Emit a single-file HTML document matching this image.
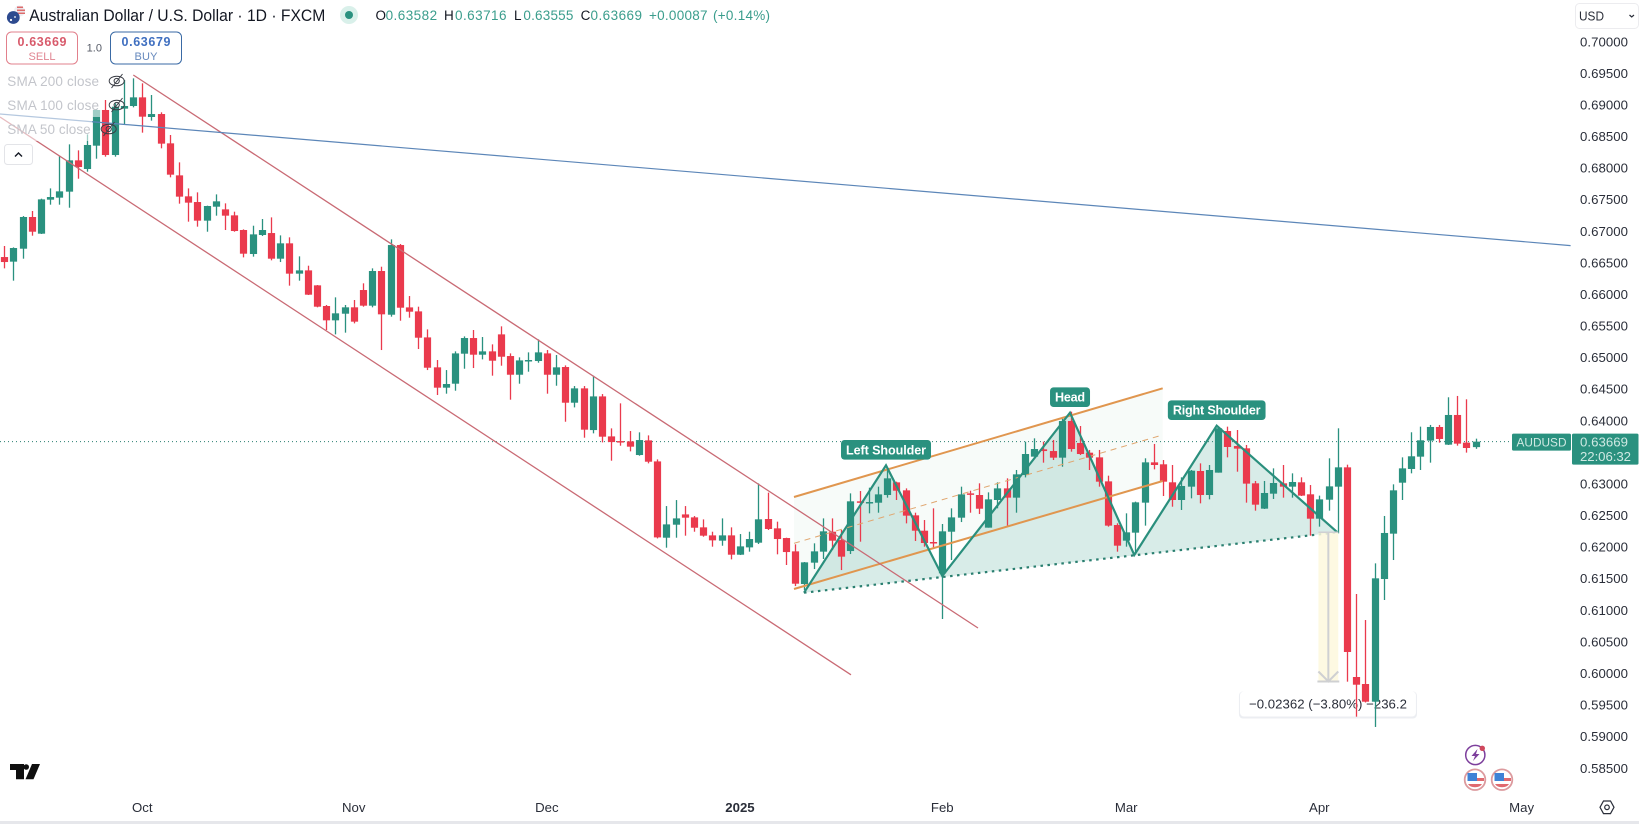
<!DOCTYPE html>
<html lang="en">
<head>
<meta charset="utf-8">
<title>AUDUSD 1D chart</title>
<style>
html,body{margin:0;padding:0;background:#fff;width:1639px;height:824px;overflow:hidden}
svg{display:block;font-family:"Liberation Sans",Arial,sans-serif}
</style>
</head>
<body>
<svg id="chart" width="1639" height="824" viewBox="0 0 1639 824" xmlns="http://www.w3.org/2000/svg">
  <rect x="0" y="0" width="1639" height="824" fill="#ffffff"/>
  <g id="under"></g>
  <g id="candles"></g>
  <g id="tools"></g>

  <rect x="0" y="70" width="100" height="47" fill="#ffffff" fill-opacity="0.55"/>
  <rect x="0" y="117" width="92" height="24" fill="#ffffff" fill-opacity="0.55"/>

  <g>
    <g>
      <circle cx="19.5" cy="11" r="5.5" fill="#eef0f4"/>
      <rect x="17" y="6.5" width="6" height="1.6" fill="#dd6b6b"/>
      <rect x="17" y="9.5" width="8" height="1.6" fill="#dd6b6b"/>
      <rect x="17" y="12.5" width="8" height="1.5" fill="#dd6b6b"/>
      <circle cx="13.3" cy="17.5" r="6.4" fill="#2d4a8f"/>
      <circle cx="11" cy="20" r="1.1" fill="#ffffff"/>
      <circle cx="15" cy="17" r="0.9" fill="#ffffff"/>
    </g>
    <text x="29.3" y="21" font-size="17" fill="#131722" textLength="296" lengthAdjust="spacingAndGlyphs">Australian Dollar / U.S. Dollar · 1D · FXCM</text>
    <circle cx="349" cy="15" r="9" fill="#d9f0ea"/>
    <circle cx="349" cy="15" r="4" fill="#2a917f"/>
    <g font-size="13.5" fill="#3a9d8c">
      <text x="375.5" y="20" fill="#131722">O</text>
      <text x="385.6" y="20" textLength="51.5">0.63582</text>
      <text x="444" y="20" fill="#131722">H</text>
      <text x="455" y="20" textLength="51.5">0.63716</text>
      <text x="514" y="20" fill="#131722">L</text>
      <text x="523.4" y="20" textLength="50">0.63555</text>
      <text x="580.6" y="20" fill="#131722">C</text>
      <text x="590.5" y="20" textLength="51.5">0.63669</text>
      <text x="649" y="20" textLength="58.5">+0.00087</text>
      <text x="713" y="20" textLength="57">(+0.14%)</text>
    </g>
  </g>

  <g>
    <rect x="6.5" y="32" width="71" height="32" rx="5" fill="#ffffff" stroke="#e2808c" stroke-width="1"/>
    <text x="42" y="46" font-size="12.5" font-weight="700" fill="#d85a6b" text-anchor="middle" textLength="49">0.63669</text>
    <text x="42" y="60" font-size="11" fill="#e08591" text-anchor="middle" textLength="27">SELL</text>
  </g>
  <text x="94.3" y="51.5" font-size="11" fill="#555a66" text-anchor="middle">1.0</text>
  <g>
    <rect x="110.5" y="32" width="71" height="32" rx="5" fill="#ffffff" stroke="#3a6aa5" stroke-width="1"/>
    <text x="146" y="46" font-size="12.5" font-weight="700" fill="#3f6fc0" text-anchor="middle" textLength="49">0.63679</text>
    <text x="146" y="60" font-size="11" fill="#6588bd" text-anchor="middle" textLength="23">BUY</text>
  </g>

  <g font-size="13.5" fill="#c3c5cb">
    <text x="7.3" y="86" textLength="91.7">SMA 200 close</text>
    <text x="7.3" y="110" textLength="91.7">SMA 100 close</text>
    <text x="7.3" y="134" textLength="83.4">SMA 50 close</text>
    <g fill="none" stroke="#3a3d45" stroke-width="1">
      <ellipse cx="116.7" cy="81" rx="7.5" ry="4.8"/><circle cx="116.7" cy="81" r="2.6"/><path d="M111.5 88 L122.5 74"/>
    </g>
    <g fill="none" stroke="#3a3d45" stroke-width="1">
      <ellipse cx="116.7" cy="105" rx="7.5" ry="4.8"/><circle cx="116.7" cy="105" r="2.6"/><path d="M111.5 112 L122.5 98"/>
    </g>
    <g fill="none" stroke="#3a3d45" stroke-width="1">
      <ellipse cx="108.7" cy="129" rx="7.5" ry="4.8"/><circle cx="108.7" cy="129" r="2.6"/><path d="M103.5 136 L114.5 122"/>
    </g>
  </g>
  <g>
    <rect x="4.5" y="144.5" width="28" height="20" rx="3" fill="#ffffff" stroke="#e3e4e8"/>
    <path d="M15 156.5 L18.5 153 L22 156.5" fill="none" stroke="#131722" stroke-width="1.4"/>
  </g>

  <g id="priceAxis" font-size="13.2" fill="#2a2e39"></g>
  <g id="timeAxis" font-size="13.2" fill="#2a2e39"></g>

  <g>
    <rect x="1575.5" y="3.5" width="63" height="25" rx="4" fill="#ffffff" stroke="#ececef"/>
    <text x="1579" y="20.5" font-size="13.2" fill="#2a2e39" textLength="25" lengthAdjust="spacingAndGlyphs">USD</text>
    <path d="M1629.5 15 L1631.7 17 L1634 15" fill="none" stroke="#2a2e39" stroke-width="1.2"/>
  </g>

  <rect x="0" y="821" width="1639" height="3" fill="#e6e7eb"/>

  <g fill="#0f0f0f">
    <path d="M10 764 H24 V779.3 H16 V770 H10 Z"/>
    <circle cx="26.2" cy="767" r="2.8"/>
    <path d="M32 764 H40 L33.5 779.3 H25.5 Z"/>
  </g>

  <g fill="none" stroke="#2a2e39" stroke-width="1.2">
    <path d="M1600 807.3 L1603.5 801 H1610.5 L1614 807.3 L1610.5 813.6 H1603.5 Z"/>
    <circle cx="1607" cy="807.3" r="2.3"/>
  </g>

  <g>
    <circle cx="1475.3" cy="755" r="9.6" fill="#ffffff" stroke="#7d3f9c" stroke-width="1.5"/>
    <path d="M1477.5 749 L1471.5 756 H1475 L1473 761 L1479.5 754 H1476 Z" fill="#7d3f9c"/>
    <circle cx="1482.3" cy="748.3" r="2.7" fill="#d0485c"/>
  </g>
  <g>
    <circle cx="1475" cy="779.7" r="10.3" fill="#ffffff" stroke="#dc9a9e" stroke-width="1.8"/>
    <rect x="1467.5" y="773" width="9.5" height="8" fill="#3f82d6"/>
    <rect x="1477" y="778" width="7" height="3" fill="#e0696f"/>
    <path d="M1468 784 H1482 A7.5 5 0 0 1 1468 784 Z" fill="#e0696f"/>
  </g>
  <g>
    <circle cx="1502" cy="779.7" r="10.3" fill="#ffffff" stroke="#dc9a9e" stroke-width="1.8"/>
    <rect x="1494.5" y="773" width="9.5" height="8" fill="#3f82d6"/>
    <rect x="1504" y="778" width="7" height="3" fill="#e0696f"/>
    <path d="M1495 784 H1509 A7.5 5 0 0 1 1495 784 Z" fill="#e0696f"/>
  </g>

<script>
// OHLC values in price points (1 point = 0.00001), read per daily bar
const opens = [
66591,66518,66723,67225,66961,67499,67531,67626,68122,67985,
68354,68919,68206,68940,68982,69119,68808,68855,68391,67884,
67552,67462,67167,67388,67346,67251,67019,66639,66940,66971,
66565,66808,66328,66380,66143,65816,65589,65694,65795,66069,
65821,66370,65678,66781,65794,65731,65319,64845,64523,64586,
65061,65309,65045,65098,65367,65024,64728,64945,64945,65066,
64728,64850,64285,64512,63852,64385,63752,63678,63673,63457,
63689,63356,62148,62354,62517,62470,62312,62185,62101,62185,
61879,61995,62069,62444,62296,62143,61932,61415,61753,61927,
62243,62111,61937,62724,62692,62702,62824,63024,62898,62502,
62259,62080,61584,62243,62465,62850,62824,62307,62745,62929,
62782,63140,63431,63547,63520,63415,63996,63647,63494,63420,
63040,62349,62101,62228,62703,63341,63310,63025,62745,62956,
63204,62824,63178,63837,63600,63563,63009,62608,62845,63009,
62956,63025,62835,62449,62750,62956,63262,59943,59832,59552,
61494,62212,63019,63236,63431,63685,63901,63621,64091,63653,63582];
const highs = [
66766,66744,67240,67320,67515,67678,68196,68375,68280,68533,
68929,69077,69024,69394,69420,69341,69156,68882,68523,68090,
67678,67615,67404,67583,67441,67309,67029,67087,67193,67219,
66934,66903,66602,66454,66148,65832,65953,65832,65911,66175,
66412,66438,66871,66797,65974,65805,65446,64961,64802,65098,
65335,65436,65325,65209,65494,65066,65003,65082,65288,65119,
65040,64876,64549,64549,64713,64422,63879,64275,63837,63816,
63768,63388,62649,62744,62649,62491,62438,62243,62454,62312,
62206,62243,63008,62861,62402,62148,62043,61763,62059,62454,
62454,62270,62850,62887,62940,62956,63220,63035,62929,62544,
62428,62613,62365,62613,62956,62892,63009,62866,63024,63088,
63220,63668,63721,63668,63695,64038,64143,63916,63537,63537,
63130,62376,62534,62719,63405,63632,63378,63299,63104,63220,
63325,63299,63906,63906,63853,63616,63046,63046,63246,63299,
63167,63104,62982,62814,63405,63880,63304,61257,60845,61742,
62492,62993,63420,63817,63906,63933,63933,64371,64392,64339,63716];
const lows = [
66412,66217,66565,66929,66956,67420,67420,67372,67831,67942,
68148,68180,68180,68692,68961,68560,68750,68312,67853,67436,
67151,67072,66992,67246,67019,66992,66586,66597,66924,66539,
66512,66138,66217,65990,65795,65436,65367,65394,65541,65805,
65795,65119,65647,65583,65631,65135,64802,64407,64428,64475,
64823,64834,64971,64713,64871,64333,64586,64776,64918,64428,
64554,63984,64211,63731,63800,63657,63367,63604,63515,63446,
63325,62137,61990,62148,62180,62243,62164,62006,62021,61805,
61874,61927,62048,62270,61885,61716,61383,61320,61652,61811,
61953,61636,61890,62085,62534,62544,62782,62745,62375,62096,
62006,61979,60861,61795,62396,62544,62523,62307,62613,62338,
62544,63103,63431,63336,63378,63272,63510,63457,63220,62956,
62323,61927,62006,61901,62339,63230,62808,62639,62587,62771,
62692,62755,63178,63420,63193,62703,62576,62603,62761,62782,
62782,62808,62180,62323,62576,62217,59869,59315,59540,59152,
61162,61795,62745,63167,63220,63336,63653,63616,63605,63495,63555];
const closes = [
66512,66734,67225,66992,67504,67541,67631,68122,68016,68365,
68919,68206,68971,68982,69119,68813,68855,68386,67895,67547,
67452,67167,67399,67473,67246,67003,66644,66950,67019,66565,
66808,66328,66380,65995,65805,65589,65700,65795,65568,65821,
66370,65684,66781,65789,65726,65314,64839,64523,64581,65066,
65309,65045,65098,64950,65013,64728,64955,64961,65082,64728,
64845,64285,64512,63858,64385,63747,63662,63657,63589,63694,
63351,62153,62359,62454,62465,62306,62180,62106,62185,61879,
62011,62127,62439,62286,62127,61921,61420,61758,61932,62249,
62101,61848,62724,62702,62713,62834,63088,62892,62497,62259,
62064,62064,62249,62470,62834,62829,62607,62755,62929,62782,
63151,63473,63552,63520,63415,63995,63552,63473,63415,63035,
62339,62022,62233,62708,63341,63299,63035,62745,62967,63209,
62824,63220,63880,63584,63558,63004,62671,62856,63014,62956,
63030,62814,62449,62755,62961,63262,60339,59821,59552,61505,
62223,62898,63246,63437,63690,63901,63711,64091,63637,63568,63669];

// Axis tick labels
const priceTicks = ["0.70000","0.69500","0.69000","0.68500","0.68000","0.67500","0.67000","0.66500","0.66000","0.65500","0.65000","0.64500","0.64000","0.63500","0.63000","0.62500","0.62000","0.61500","0.61000","0.60500","0.60000","0.59500","0.59000","0.58500"];
const timeLabels = ["Oct","Nov","Dec","2025","Feb","Mar","Apr","May"];
const timeBars = [15,38,59,80,102,122,143,165];

// Drawing tool anchors: bar index and price
const channelUpperBars = [14.03,105.88];
const channelUpperPrices = [0.69473,0.60719];
const channelLowerBars = [-0.47,92.07];
const channelLowerPrices = [0.68808,0.59978];
const trendBars = [-0.47,170.32];
const trendPrices = [0.68855,0.66772];
const orangeBars = [85.87,125.97];
const orangeUpperPrices = [0.62793,0.64513];
const orangeMiddlePrices = [0.62060,0.63776];
const orangeLowerPrices = [0.61336,0.63046];
const patternBars = [86.96,95.88,102.0,115.89,122.88,131.84,144.96];
const patternPrices = [0.61278,0.63294,0.61542,0.64127,0.61874,0.63921,0.62234];
const forecastBars = [142.9,145.06];
const forecastPrices = [0.62234,0.59872];
const measureLabelBar = 134.37;

const NS = "http://www.w3.org/2000/svg";
const xScale = function (bar) { return 4.3 + 9.196 * bar; };
const yScale = function (price) { return 41.7 + (0.70 - price) * 6317; };
const GREEN = "#2a917f";
const RED = "#ea3a4d";

function make(tag, attrs, parent) {
  const el = document.createElementNS(NS, tag);
  for (const k in attrs) el.setAttribute(k, attrs[k]);
  parent.appendChild(el);
  return el;
}
function pts(bars, prices) {
  return bars.map(function (b, i) { return xScale(b).toFixed(1) + "," + yScale(prices[i]).toFixed(1); }).join(" ");
}

const under = document.getElementById("under");
const candles = document.getElementById("candles");
const tools = document.getElementById("tools");
const priceAxis = document.getElementById("priceAxis");
const timeAxis = document.getElementById("timeAxis");
const lastClose = closes[closes.length - 1] / 100000;

// Orange channel fill (beneath candles)
const orangeFillPts = orangeBars.map(function (b, i) { return xScale(b).toFixed(1) + "," + yScale(orangeUpperPrices[i]).toFixed(1); })
  .concat(orangeBars.map(function (b, i) { return xScale(b).toFixed(1) + "," + yScale(orangeLowerPrices[i]).toFixed(1); }).reverse()).join(" ");
const orangeFill = make("polygon", {points: orangeFillPts, fill: "#5fb58c", "fill-opacity": 0.05}, under);



// Head and shoulders fill (beneath candles)
const patFill = make("polygon", {points: pts(patternBars, patternPrices), fill: "#26967f", "fill-opacity": 0.18}, under);



// Last price line
const priceLine = make("line", {x1: 0, x2: 1512, y1: yScale(lastClose), y2: yScale(lastClose), stroke: "#2a7f70", "stroke-width": 1, "stroke-dasharray": "1 3"}, under);



// Measure label (sits beneath the candles)
const boxX = xScale(measureLabelBar);
const boxY = yScale(forecastPrices[1]) + 10;
const labelShadow = make("rect", {x: boxX - 1, y: boxY, width: 178, height: 27, rx: 4, fill: "#eceef2"}, under);


const labelBox = make("rect", {x: boxX, y: boxY, width: 176, height: 25, rx: 4, fill: "#ffffff"}, under);


const labelText = make("text", {x: boxX + 9, y: boxY + 17, "font-size": 13.2, fill: "#2a2e39", textLength: 158}, under);


labelText.textContent = "\u22120.02362 (\u22123.80%) \u2212236.2";

// Candles
for (let i = 0; i < closes.length; i++) {
  const o = opens[i] / 100000, h = highs[i] / 100000, l = lows[i] / 100000, c = closes[i] / 100000;
  const col = c >= o ? GREEN : RED;
  const cx = Math.round(xScale(i)) + 0.5;
  const group = make("g", {}, candles);
  
  
  const wick = make("rect", {x: cx - 0.65, y: yScale(h), width: 1.3, height: Math.max(0.5, yScale(l) - yScale(h)), fill: col}, group);
  
  
  const top = yScale(Math.max(o, c));
  const body = make("rect", {x: cx - 3.6, y: top, width: 7.2, height: Math.max(1.5, yScale(Math.min(o, c)) - top), fill: col}, group);
  
  
}

// Orange channel lines
const orangeUpper = make("polyline", {points: pts(orangeBars, orangeUpperPrices), fill: "none", stroke: "#e0964f", "stroke-width": 2}, tools);


const orangeMiddle = make("polyline", {points: pts(orangeBars, orangeMiddlePrices), fill: "none", stroke: "#e0a66f", "stroke-width": 1, "stroke-dasharray": "6 5"}, tools);


const orangeLower = make("polyline", {points: pts(orangeBars, orangeLowerPrices), fill: "none", stroke: "#e0964f", "stroke-width": 2}, tools);



// Red descending channel
const redUpper = make("polyline", {points: pts(channelUpperBars, channelUpperPrices), fill: "none", stroke: "#c96a74", "stroke-width": 1.3}, tools);


const redLower = make("polyline", {points: pts(channelLowerBars, channelLowerPrices), fill: "none", stroke: "#c96a74", "stroke-width": 1.3}, tools);



// Long blue trend line
const blueLine = make("polyline", {points: pts(trendBars, trendPrices), fill: "none", stroke: "#5c86b8", "stroke-width": 1.2}, tools);



// Head and shoulders outline and neckline
const patLine = make("polyline", {points: pts(patternBars, patternPrices), fill: "none", stroke: "#2a8f7d", "stroke-width": 2.2}, tools);


const neckBars = [patternBars[0], patternBars[patternBars.length - 1]];
const neckPrices = [patternPrices[0], patternPrices[patternPrices.length - 1]];
const neckline = make("polyline", {points: pts(neckBars, neckPrices), fill: "none", stroke: "#2a7f70", "stroke-width": 2.2, "stroke-dasharray": "2.5 4.5"}, tools);



// Pattern labels
const labelNames = ["Left Shoulder", "Head", "Right Shoulder"];
const labelVertices = [1, 3, 5];
const labelWidths = [90, 40, 97.7];
for (let i = 0; i < labelNames.length; i++) {
  const vx = xScale(patternBars[labelVertices[i]]);
  const vy = yScale(patternPrices[labelVertices[i]]);
  const tag = make("rect", {x: vx - labelWidths[i] / 2, y: vy - 25.3, width: labelWidths[i], height: 19.6, rx: 3.5, fill: "#2a917f"}, tools);
  
  
  const txt = make("text", {x: vx, y: vy - 11, "text-anchor": "middle", "font-size": 12.6, "font-weight": 700, fill: "#ffffff", textLength: labelWidths[i] - 10}, tools);
  
  
  txt.textContent = labelNames[i];
}

// Price projection arrow
const fx0 = xScale(forecastBars[0]), fx1 = xScale(forecastBars[1]);
const fy0 = yScale(forecastPrices[0]), fy1 = yScale(forecastPrices[1]);
const fmid = (fx0 + fx1) / 2;
const fcFill = make("rect", {x: fx0, y: fy0, width: fx1 - fx0, height: fy1 - fy0, fill: "#fdf8dd", "fill-opacity": 0.85}, tools);


const fcStem = make("line", {x1: fmid, x2: fmid, y1: fy0, y2: fy1, stroke: "#cfd0d2", "stroke-width": 2}, tools);


const fcTop = make("line", {x1: fx0, x2: fx1, y1: fy0, y2: fy0, stroke: "#cfd0d2", "stroke-width": 1.5}, tools);


const fcBase = make("line", {x1: fx0 - 1, x2: fx1 + 1, y1: fy1, y2: fy1, stroke: "#cfd0d2", "stroke-width": 2}, tools);


const fcHead = make("polyline", {points: (fx0) + "," + (fy1 - 10) + " " + fmid + "," + fy1 + " " + (fx1) + "," + (fy1 - 10), fill: "none", stroke: "#cfd0d2", "stroke-width": 2}, tools);



// Price axis ticks
priceTicks.forEach(function (t) {
  const el = make("text", {x: 1580, y: yScale(parseFloat(t)) + 4.6, textLength: 48}, priceAxis);
  
  
  el.textContent = t;
});

// Last price tags
const tagY = yScale(lastClose);
const symTag = make("rect", {x: 1512, y: tagY - 8, width: 59, height: 17, rx: 1.5, fill: "#2a917f"}, priceAxis);


const symTxt = make("text", {x: 1516.5, y: tagY + 5, fill: "#cfe9e3", "font-size": 12, textLength: 50, lengthAdjust: "spacingAndGlyphs"}, priceAxis);


symTxt.textContent = "AUDUSD";
const priceTag = make("rect", {x: 1572, y: tagY - 8, width: 66.5, height: 31, rx: 1.5, fill: "#2a917f"}, priceAxis);


const priceTxt = make("text", {x: 1580, y: tagY + 5, fill: "#cfe9e3", textLength: 48}, priceAxis);


priceTxt.textContent = lastClose.toFixed(5);
const countTxt = make("text", {x: 1580, y: tagY + 19.5, fill: "#cfe9e3", textLength: 51}, priceAxis);


countTxt.textContent = "22:06:32";

// Time axis ticks
timeLabels.forEach(function (t, i) {
  const el = make("text", {x: xScale(timeBars[i]), y: 812, "text-anchor": "middle"}, timeAxis);
  if (t === "2025") el.setAttribute("font-weight", "700");
  
  
  el.textContent = t;
});
</script>
</svg>
</body>
</html>
